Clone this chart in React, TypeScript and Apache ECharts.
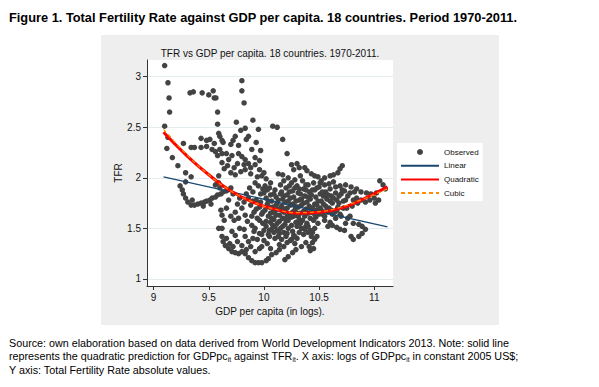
import React, { useEffect, useRef } from "react";
import * as echarts from "echarts";

// ---------- data ----------
const xTicks = [9, 9.5, 10, 10.5, 11];
const yTicks = [1, 1.5, 2, 2.5, 3];

const observedUpperLeft: number[][] = [
  [9.10, 3.11], [9.13, 2.94], [9.14, 2.79], [9.145, 2.65], [9.10, 2.51], [9.13, 2.40], [9.12, 2.29], [9.17, 2.20],
  [9.22, 2.12], [9.27, 2.34], [9.34, 2.30], [9.29, 2.05], [9.34, 2.01], [9.24, 1.92], [9.26, 1.88], [9.27, 1.84],
  [9.33, 2.84], [9.36, 2.85], [9.44, 2.84], [9.50, 2.82], [9.54, 2.86], [9.55, 2.79], [9.565, 2.79], [9.58, 2.65],
  [9.58, 2.53], [9.59, 2.44], [9.60, 2.41], [9.62, 2.37], [9.43, 2.39], [9.43, 2.30], [9.48, 2.37], [9.48, 2.31],
  [9.51, 2.38], [9.53, 2.28], [9.55, 2.34], [9.56, 2.26], [9.58, 2.22], [9.60, 2.28], [9.62, 2.24], [9.63, 2.35],
  [9.37, 2.30], [9.29, 1.96],
];

const observedLeftBand: number[][] = [
  [9.29, 1.80], [9.31, 1.76], [9.34, 1.73], [9.37, 1.73], [9.40, 1.74], [9.43, 1.75], [9.46, 1.76], [9.48, 1.77],
  [9.51, 1.78], [9.53, 1.80], [9.56, 1.81], [9.58, 1.83], [9.61, 1.84], [9.63, 1.86], [9.66, 1.87], [9.35, 1.78],
  [9.45, 1.72], [9.52, 1.74], [9.59, 2.02], [9.59, 1.95], [9.56, 1.93], [9.62, 2.15], [9.64, 2.09], [9.66, 2.24],
  [9.60, 1.90],
];

const observedLowerLeft: number[][] = [
  [9.59, 1.50], [9.62, 1.50], [9.62, 1.63], [9.61, 1.68], [9.64, 1.58], [9.62, 1.42], [9.63, 1.37], [9.65, 1.33],
  [9.68, 1.30], [9.71, 1.27], [9.74, 1.26], [9.77, 1.25], [9.80, 1.27], [9.83, 1.25], [9.86, 1.21], [9.89, 1.18],
  [9.92, 1.16], [9.95, 1.16], [9.98, 1.16], [10.02, 1.18], [10.04, 1.20], [9.71, 1.47], [9.74, 1.43], [9.76, 1.37],
  [9.78, 1.50], [9.82, 1.49], [9.83, 1.42], [9.86, 1.37], [9.88, 1.32], [9.89, 1.53], [9.91, 1.47], [9.94, 1.39],
  [9.96, 1.30], [9.98, 1.44], [9.66, 1.40], [9.69, 1.35], [9.72, 1.32], [9.80, 1.33], [9.84, 1.29], [9.92, 1.27],
  [9.90, 1.40],
];

const observedMidColumn: number[][] = [
  [9.75, 2.55], [9.80, 2.96], [9.80, 2.86], [9.82, 2.74], [9.79, 2.47], [9.83, 2.49], [9.90, 2.57], [9.95, 2.48],
  [9.86, 2.41], [9.84, 2.38], [9.74, 2.41], [9.72, 2.37], [9.70, 2.33], [9.77, 2.32], [9.80, 2.21], [9.83, 2.18],
  [9.89, 2.28], [9.93, 2.35], [9.97, 2.27], [9.92, 2.20], [9.96, 2.17], [9.86, 2.14], [9.82, 2.13], [9.76, 2.14],
  [9.71, 2.22], [9.68, 2.18], [9.67, 2.12], [9.70, 2.05], [9.74, 2.03], [9.79, 2.06], [9.83, 2.08], [9.88, 2.04],
  [9.94, 2.01], [9.98, 2.02], [10.02, 1.99], [9.88, 2.10], [9.92, 2.13], [9.96, 2.08], [10.00, 2.05], [9.77, 2.24],
  [9.73, 2.10],
];

const observedMidUpper: number[][] = [
  [10.08, 2.51], [10.12, 2.50], [10.17, 2.38], [10.21, 2.24], [10.25, 2.13], [10.30, 2.14], [10.32, 2.10], [10.27, 2.08],
  [10.13, 2.04], [10.17, 2.03], [10.06, 1.95], [10.22, 2.00], [10.28, 1.98], [10.33, 2.02], [10.18, 1.97], [10.37, 2.10],
  [10.39, 2.07], [10.43, 2.04], [10.46, 2.02], [10.49, 2.01], [10.52, 1.97], [10.55, 2.00], [10.60, 2.02], [10.63, 2.03],
  [10.67, 2.05], [10.69, 2.09], [10.71, 2.12],
];

const observedRight: number[][] = [
  [10.74, 1.93], [10.79, 1.91], [10.84, 1.89], [10.88, 1.86], [10.93, 1.85], [10.97, 1.84], [11.02, 1.85], [11.05, 1.97],
  [11.08, 1.93], [11.10, 1.89], [11.04, 1.78], [11.01, 1.75], [10.76, 1.82], [10.81, 1.78], [10.85, 1.75], [10.75, 1.70],
  [10.80, 1.72], [10.84, 1.80], [10.88, 1.78], [10.92, 1.76], [10.96, 1.78], [11.00, 1.80], [10.78, 1.85], [10.82, 1.86],
  [10.74, 1.78],
];

const observedRightLower: number[][] = [
  [10.70, 1.62], [10.76, 1.60], [10.81, 1.55], [10.86, 1.54], [10.89, 1.52], [10.92, 1.49], [10.89, 1.45], [10.86, 1.42],
  [10.81, 1.39], [10.79, 1.42], [10.58, 1.52], [10.62, 1.53], [10.66, 1.51], [10.69, 1.49], [10.73, 1.48], [10.55, 1.58],
  [10.60, 1.56], [10.65, 1.60], [10.74, 1.55], [10.78, 1.62],
];

const observedLowerMid: number[][] = [
  [10.19, 1.19], [10.22, 1.22], [10.26, 1.26], [10.29, 1.29], [10.34, 1.32], [10.38, 1.36], [10.41, 1.32], [10.44, 1.36],
  [10.46, 1.39], [10.43, 1.42], [10.40, 1.46], [10.37, 1.49], [10.32, 1.46], [10.28, 1.42], [10.25, 1.39], [10.21, 1.36],
  [10.18, 1.32], [10.14, 1.29], [10.11, 1.26], [10.07, 1.24], [10.03, 1.35], [10.05, 1.42], [10.07, 1.49], [10.10, 1.52],
  [10.14, 1.45], [10.16, 1.39], [9.92, 1.50], [9.96, 1.45], [10.00, 1.48], [10.04, 1.44], [10.12, 1.48], [10.18, 1.46],
  [10.22, 1.50], [10.26, 1.47], [10.30, 1.52], [10.34, 1.50], [10.20, 1.42], [10.24, 1.38], [10.28, 1.35], [10.10, 1.40],
  [10.00, 1.38], [9.98, 1.32], [10.06, 1.30], [10.14, 1.34], [10.30, 1.40], [10.44, 1.46], [10.46, 1.50], [10.40, 1.52],
  [10.36, 1.44], [10.48, 1.42], [10.45, 1.30], [10.42, 1.28],
];

const observedCore: number[][] = [
  [10.00, 1.85], [10.02, 1.80], [10.03, 1.74], [10.01, 1.68], [10.04, 1.62], [10.02, 1.57], [10.05, 1.90], [10.06, 1.83],
  [10.07, 1.77], [10.08, 1.71], [10.06, 1.65], [10.09, 1.59], [10.08, 1.53], [10.10, 1.88], [10.11, 1.81], [10.12, 1.75],
  [10.13, 1.69], [10.11, 1.63], [10.14, 1.57], [10.15, 1.93], [10.16, 1.86], [10.17, 1.79], [10.16, 1.72], [10.18, 1.66],
  [10.17, 1.60], [10.19, 1.54], [10.20, 1.90], [10.21, 1.83], [10.22, 1.77], [10.21, 1.70], [10.23, 1.64], [10.22, 1.58],
  [10.25, 1.95], [10.26, 1.87], [10.27, 1.81], [10.26, 1.74], [10.28, 1.68], [10.27, 1.62], [10.29, 1.56], [10.30, 1.92],
  [10.31, 1.85], [10.32, 1.78], [10.31, 1.71], [10.33, 1.65], [10.32, 1.59], [10.35, 1.97], [10.36, 1.89], [10.37, 1.82],
  [10.36, 1.75], [10.38, 1.69], [10.37, 1.62], [10.39, 1.55], [10.40, 1.93], [10.41, 1.86], [10.42, 1.79], [10.41, 1.72],
  [10.43, 1.66], [10.42, 1.60], [10.45, 1.95], [10.46, 1.88], [10.47, 1.81], [10.46, 1.74], [10.48, 1.68], [10.47, 1.61],
  [10.49, 1.55], [10.50, 1.91], [10.51, 1.84], [10.52, 1.77], [10.51, 1.70], [10.53, 1.64], [10.55, 1.93], [10.56, 1.86],
  [10.57, 1.79], [10.56, 1.72], [10.58, 1.66], [10.60, 1.89], [10.61, 1.82], [10.62, 1.75], [10.61, 1.68], [10.63, 1.96],
  [10.65, 1.85], [10.66, 1.78], [10.67, 1.71], [10.69, 1.92], [10.70, 1.84], [10.72, 1.77], [10.71, 1.88],
];

const observedCoreFill: number[][] = [
  [10.03, 1.88], [10.05, 1.71], [10.07, 1.60], [10.09, 1.84], [10.10, 1.67], [10.13, 1.78], [10.14, 1.63], [10.15, 1.50],
  [10.18, 1.82], [10.19, 1.69], [10.20, 1.58], [10.23, 1.86], [10.24, 1.73], [10.25, 1.61], [10.28, 1.90], [10.29, 1.77],
  [10.30, 1.65], [10.33, 1.84], [10.34, 1.73], [10.35, 1.58], [10.38, 1.88], [10.39, 1.76], [10.40, 1.65], [10.43, 1.83],
  [10.44, 1.70], [10.45, 1.58], [10.48, 1.90], [10.49, 1.77], [10.50, 1.64], [10.53, 1.86], [10.54, 1.74], [10.55, 1.62],
  [10.58, 1.83], [10.59, 1.70], [10.63, 1.80], [10.64, 1.66], [10.68, 1.75], [10.69, 1.64],
];

const observedCoreExtra: number[][] = [
  [10.01, 1.92], [10.04, 1.77], [10.06, 1.56], [10.08, 1.66], [10.11, 1.73], [10.12, 1.55], [10.15, 1.84], [10.16, 1.68],
  [10.19, 1.76], [10.21, 1.62], [10.23, 1.92], [10.24, 1.80], [10.26, 1.66], [10.28, 1.72], [10.31, 1.62], [10.32, 1.89],
  [10.34, 1.79], [10.36, 1.67], [10.38, 1.93], [10.40, 1.81], [10.42, 1.70], [10.44, 1.88], [10.46, 1.64], [10.48, 1.73],
  [10.51, 1.95], [10.52, 1.68], [10.54, 1.82], [10.57, 1.68], [10.59, 1.94], [10.60, 1.77], [10.62, 1.64], [10.65, 1.91],
  [10.66, 1.68], [10.68, 1.82], [10.72, 1.70], [10.73, 1.87], [9.89, 1.62], [9.90, 1.77], [9.93, 1.69], [9.96, 1.58],
  [9.97, 1.76], [9.99, 1.89], [9.99, 1.66], [10.02, 1.52], [10.05, 1.48], [10.09, 1.46], [10.13, 1.42], [10.17, 1.52],
  [10.21, 1.45], [10.25, 1.53], [10.27, 1.43], [10.33, 1.55], [10.38, 1.52], [10.42, 1.48],
];

const observedCoreWest: number[][] = [
  [9.86, 1.80], [9.88, 1.73], [9.90, 1.86], [9.91, 1.66], [9.93, 1.78], [9.94, 1.60], [9.95, 1.92], [9.96, 1.71],
  [9.97, 1.84], [9.98, 1.64], [9.99, 1.55], [9.92, 1.95], [9.87, 1.90], [9.84, 1.84], [9.82, 1.76], [9.80, 1.70],
  [9.83, 1.63], [9.85, 1.57], [9.78, 1.80], [9.76, 1.74], [9.70, 1.90], [9.72, 1.84], [9.68, 1.78], [9.66, 1.70],
  [9.74, 1.66], [9.70, 1.62], [9.73, 1.58], [9.77, 1.60],
];

const linearGdp = [9.09, 11.12];
const linearTfr = [2.01, 1.515];

const fitGdp = [9.09, 9.3, 9.5, 9.7, 9.9, 10.1, 10.3, 10.5, 10.7, 10.9, 11.12];
const quadraticTfr = [2.45, 2.22, 2.03, 1.87, 1.76, 1.69, 1.65, 1.66, 1.70, 1.79, 1.91];
const cubicTfr = [2.48, 2.23, 2.03, 1.87, 1.76, 1.69, 1.655, 1.665, 1.71, 1.79, 1.89];

const seriesNames = ["Observed", "Linear", "Quadratic", "Cubic"];

const figureTitle = "Figure 1. Total Fertility Rate against GDP per capita. 18 countries. Period 1970-2011.";
const chartTitle = "TFR vs GDP per capita. 18 countries. 1970-2011.";
const xName = "GDP per capita (in logs).";
const yName = "TFR";
const noteLines = [
  "Source: own elaboration based on data derived from World Development Indicators 2013. Note: solid line",
  "represents the quadratic prediction for GDPpc{sub|it} against TFR{sub|it}. X axis: logs of GDPpc{sub|it} in constant 2005 US$;",
  "Y axis: Total Fertility Rate absolute values.",
];

const FONT = "'Liberation Sans', Arial, sans-serif";

export default function App() {
  const ref = useRef<HTMLDivElement>(null);

  useEffect(() => {
    if (!ref.current) return;
    const chart = echarts.init(ref.current, null, { renderer: "svg" });

    const observed = [
      ...observedUpperLeft, ...observedLeftBand, ...observedLowerLeft, ...observedMidColumn,
      ...observedMidUpper, ...observedRight, ...observedRightLower, ...observedLowerMid,
      ...observedCore, ...observedCoreFill, ...observedCoreExtra, ...observedCoreWest,
    ];
    const linear = linearGdp.map((g, i) => [g, linearTfr[i]]);
    const quadratic = fitGdp.map((g, i) => [g, quadraticTfr[i]]);
    const cubic = fitGdp.map((g, i) => [g, cubicTfr[i]]);

    const axisColor = "#333";
    const hideSymbol = { itemStyle: { opacity: 0 } };

    chart.setOption({
      animation: false,
      textStyle: { fontFamily: FONT },
      graphic: [
        { type: "rect", z: -10, shape: { x: 101, y: 35, width: 398, height: 290 }, style: { fill: "#eeeeee" } },
        { type: "rect", z: -9, shape: { x: 147, y: 60, width: 246, height: 226 }, style: { fill: "#ffffff" } },
        {
          type: "text", x: 9, y: 17,
          style: { text: figureTitle, font: `bold 12.8px ${FONT}`, fill: "#000", textVerticalAlign: "middle" },
        },
        {
          type: "text", x: 270, y: 53,
          style: { text: chartTitle, font: `10px ${FONT}`, fill: "#111", textAlign: "center", textVerticalAlign: "middle" },
        },
        ...noteLines.map((t, i) => ({
          type: "text", x: 9, y: 336 + i * 13.5,
          style: {
            text: t, fontSize: 10.75, fontFamily: FONT, fill: "#000", lineHeight: 13,
            rich: { sub: { fontSize: 6.5, lineHeight: 7, verticalAlign: "bottom", fontFamily: FONT, fill: "#000" } },
          },
        })),
      ],
      grid: { left: 147, top: 60, width: 246, height: 226, containLabel: false },
      legend: {
        orient: "vertical", left: 397, top: 143, padding: [5, 4, 4, 3],
        backgroundColor: "#fff", itemWidth: 38, itemHeight: 6, itemGap: 5.7,
        selectedMode: false,
        textStyle: { fontSize: 8, color: "#111", lineHeight: 8, fontFamily: FONT },
        data: [
          { name: seriesNames[0], icon: "circle" },
          { name: seriesNames[1], ...hideSymbol },
          { name: seriesNames[2], ...hideSymbol },
          { name: seriesNames[3], ...hideSymbol },
        ],
      },
      xAxis: {
        type: "value", min: 8.94, max: 11.17,
        axisLine: { show: true, onZero: false, lineStyle: { color: axisColor, width: 1 } },
        axisTick: { show: true, length: 4, customValues: xTicks, lineStyle: { color: axisColor } },
        axisLabel: { customValues: xTicks, fontSize: 10, color: "#111", margin: 6, fontFamily: FONT },
        splitLine: { show: false },
        name: xName, nameLocation: "middle", nameGap: 11,
        nameTextStyle: { fontSize: 10, color: "#111", fontFamily: FONT },
      },
      yAxis: {
        type: "value", min: 0.93, max: 3.165,
        axisLine: { show: true, onZero: false, lineStyle: { color: axisColor, width: 1 } },
        axisTick: { show: true, length: 4, customValues: yTicks, lineStyle: { color: axisColor } },
        axisLabel: { customValues: yTicks, fontSize: 10, color: "#111", margin: 6, fontFamily: FONT },
        splitLine: { show: true, lineStyle: { color: "#e4eef0", width: 1 } },
        name: yName, nameLocation: "middle", nameGap: 22,
        nameTextStyle: { fontSize: 10, color: "#111", fontFamily: FONT },
      },
      series: [
        {
          name: seriesNames[0], type: "scatter", data: observed, symbol: "circle", symbolSize: 5.5,
          itemStyle: { color: "#434343", opacity: 1 },
        },
        {
          name: seriesNames[1], type: "line", data: linear, symbol: "none",
          lineStyle: { color: "#1a476f", width: 1.3 }, itemStyle: { color: "#1a476f" },
        },
        {
          name: seriesNames[2], type: "line", data: quadratic, symbol: "none", smooth: true,
          lineStyle: { color: "#ff0000", width: 3 }, itemStyle: { color: "#ff0000" },
        },
        {
          name: seriesNames[3], type: "line", data: cubic, symbol: "none", smooth: true,
          lineStyle: { color: "#ff8c00", width: 1.2, type: [4, 3] }, itemStyle: { color: "#ff8c00" },
        },
      ],
    });

    return () => chart.dispose();
  }, []);

  return (
    <div
      ref={ref}
      style={{ position: "fixed", left: 0, top: 0, width: 599, height: 387, background: "#fff" }}
    />
  );
}
